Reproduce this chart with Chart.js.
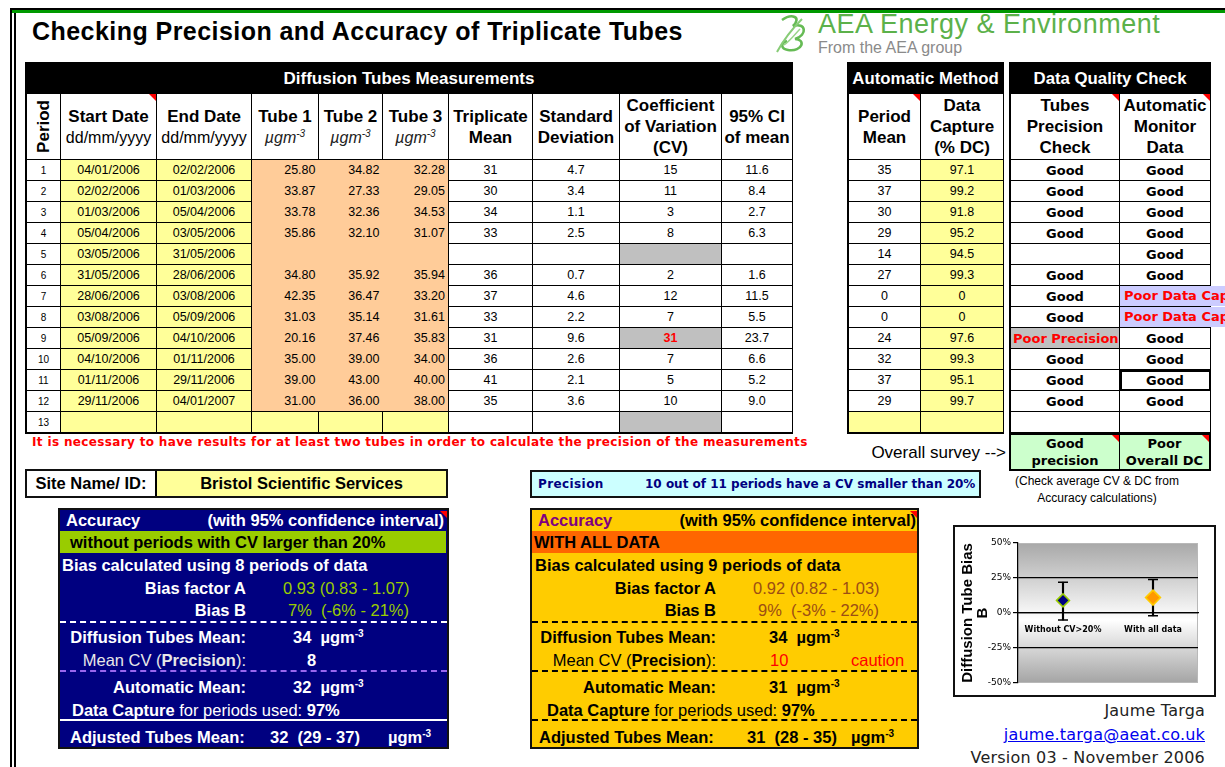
<!DOCTYPE html>
<html>
<head>
<meta charset="utf-8">
<title>Checking Precision and Accuracy of Triplicate Tubes</title>
<script src="https://cdn.jsdelivr.net/npm/chart.js@4.4.1/dist/chart.umd.min.js"></script>
<style>
  body { margin: 0; width: 1225px; height: 767px; overflow: hidden; background: #fff; position: relative;
         font-family: "Liberation Sans", Arial, sans-serif; color: #000; }
  .abs { position: absolute; }
  .bar { background: #000; color: #fff; font-weight: bold; text-align: center; }
  table { border-collapse: collapse; table-layout: fixed; }
  td, th { border: 1px solid #000; padding: 0; overflow: hidden; white-space: nowrap; position: relative; }
  th { background: #fff; font-weight: bold; font-size: 17px; line-height: 21px; white-space: normal; }
  th .sub { font-weight: normal; font-size: 16px; }
  th .unit { font-weight: normal; font-style: italic; font-size: 16px; color: #222; }
  sup { font-size: 10px; line-height: 0; }
  td { font-size: 12.5px; text-align: center; height: 20px; }
  .per { font-size: 10px; }
  .yel { background: #ffff99; }
  .org { background: #ffcc99; border-top: none; border-bottom: none; border-left: none; border-right: none; text-align: right; padding-right: 3px; }
  .gry { background: #c0c0c0; }
  .red { color: #ff0000; font-weight: bold; }
  .good { font-family: "DejaVu Sans", Verdana, sans-serif; font-weight: bold; font-size: 13px; }
  .cm::after { content: ""; position: absolute; right: 0; top: 0; border-top: 7px solid #ff0000; border-left: 7px solid transparent; }
  .line { position: absolute; height: 18px; line-height: 18px; white-space: nowrap; font-size: 16.5px; font-weight: bold; }
  .n { font-weight: normal; }
  .box { position: absolute; box-sizing: border-box; border: 2px solid #111; }
</style>
</head>
<body>

<!-- frame -->
<div class="abs" style="left:10px;top:8px;width:1215px;height:2px;background:#000;"></div>
<div class="abs" style="left:10px;top:10px;width:1215px;height:3px;background:#009900;"></div>
<div class="abs" style="left:10px;top:8px;width:2px;height:759px;background:#000;"></div>
<div class="abs" style="left:14px;top:13px;width:2px;height:754px;background:#000;"></div>

<div class="abs" style="left:32px;top:17px;font-size:25px;letter-spacing:0.45px;font-weight:bold;white-space:nowrap;">Checking Precision and Accuracy of Triplicate Tubes</div>

<!-- logo -->
<svg class="abs" style="left:770px;top:11px;" width="46" height="46" viewBox="0 0 46 46">
  <path d="M12 9 C22 2, 32 6, 23 15 C36 11, 38 24, 25 28 C36 28, 33 41, 18 39 C11 38, 10 32, 17 30" fill="none" stroke="#66bb55" stroke-width="2.6"/>
  <path d="M7 41 C14 28, 23 17, 32 8" fill="none" stroke="#88cc77" stroke-width="2"/>
  <path d="M14 34 C20 30, 26 22, 30 18" fill="none" stroke="#9ad48a" stroke-width="1.5"/>
</svg>
<div class="abs" style="left:818px;top:9px;font-size:27px;letter-spacing:0.5px;color:#5cb14a;white-space:nowrap;">AEA Energy &amp; Environment</div>
<div class="abs" style="left:818px;top:39px;font-size:16px;color:#8a8a8a;white-space:nowrap;">From the AEA group</div>

<!-- main table -->
<div class="abs" style="left:25px;top:62px;width:768px;border:1px solid #000;box-sizing:border-box;">
  <div class="bar" style="height:30px;line-height:31px;font-size:17px;">Diffusion Tubes Measurements</div>
  <table id="mainTable" style="width:766px;"></table>
</div>

<!-- automatic method -->
<div class="abs" style="left:847px;top:62px;width:157px;border:1px solid #000;box-sizing:border-box;">
  <div class="bar" style="height:30px;line-height:31px;font-size:16.8px;">Automatic Method</div>
  <table id="autoTable" style="width:155px;"></table>
</div>

<!-- data quality -->
<div class="abs" style="left:1009px;top:62px;width:202px;border:1px solid #000;box-sizing:border-box;">
  <div class="bar" style="height:30px;line-height:31px;font-size:16.8px;">Data Quality Check</div>
  <table id="dqTable" style="width:200px;"></table>
</div>

<div class="abs" style="left:1009px;top:433px;width:202px;height:38px;box-sizing:border-box;border:2px solid #000;background:#ccffcc;">
  <div class="abs good cm" style="left:0;top:0;width:108px;height:34px;line-height:17px;text-align:center;border-right:1px solid #000;">Good<br>precision</div>
  <div class="abs good cm" style="left:109px;top:0;width:89px;height:34px;line-height:17px;text-align:center;">Poor<br>Overall DC</div>
</div>
<div class="abs" style="left:820px;top:443px;width:186px;text-align:right;font-size:17px;white-space:nowrap;">Overall survey --&gt;</div>
<div class="abs" style="left:1009px;top:473px;width:176px;text-align:center;font-size:12px;line-height:17px;">(Check average CV &amp; DC from Accuracy calculations)</div>

<div class="abs" style="left:32px;top:435px;font-family:'DejaVu Sans',Verdana,sans-serif;font-weight:bold;font-size:12px;letter-spacing:0.35px;color:#ff0000;white-space:nowrap;">It is necessary to have results for at least two tubes in order to calculate the precision of the measurements</div>

<!-- site name -->
<div class="box" style="left:25px;top:469px;width:423px;height:29px;background:#ffff99;">
  <div class="abs" style="left:0;top:0;width:128px;height:25px;background:#fff;border-right:2px solid #000;line-height:25px;text-align:center;font-weight:bold;font-size:16.5px;">Site Name/ ID:</div>
  <div class="abs" style="left:130px;top:0;width:289px;height:25px;line-height:25px;text-align:center;font-weight:bold;font-size:16.5px;">Bristol Scientific Services</div>
</div>

<!-- precision -->
<div class="box" style="left:530px;top:470px;width:451px;height:28px;background:#ccffff;font-family:'DejaVu Sans',Verdana,sans-serif;font-weight:bold;font-size:12px;color:#000080;">
  <div class="abs" style="left:6px;top:0;line-height:25px;letter-spacing:0.4px;">Precision</div>
  <div class="abs" style="left:113px;top:0;line-height:25px;white-space:nowrap;">10 out of 11 periods have a CV smaller than 20%</div>
</div>

<!-- accuracy: without CV > 20% -->
<div class="box" style="left:58px;top:508px;width:391px;height:241px;background:#000080;color:#fff;">
  <div class="line cm" style="left:0;top:1px;width:387px;"><span style="margin-left:6px;">Accuracy</span><span style="position:absolute;right:3px;">(with 95% confidence interval)</span></div>
  <div class="line" style="left:0;top:21px;width:376px;height:22px;line-height:22px;background:#99cc00;color:#000;padding-left:10px;">without periods with CV larger than 20%</div>
  <div class="line" style="left:2px;top:46px;">Bias calculated using 8 periods of data</div>
  <div class="line" style="left:0;top:69px;width:186px;text-align:right;">Bias factor A</div>
  <div class="line n" style="left:223px;top:69px;color:#99cc00;">0.93 (0.83 - 1.07)</div>
  <div class="line" style="left:0;top:91px;width:186px;text-align:right;">Bias B</div>
  <div class="line n" style="left:228px;top:91px;color:#99cc00;white-space:pre;">7%  (-6% - 21%)</div>
  <div class="abs" style="left:0;top:111px;width:387px;border-top:2px dashed #fff;"></div>
  <div class="line" style="left:0;top:118px;width:186px;text-align:right;">Diffusion Tubes Mean:</div>
  <div class="line" style="left:233px;top:118px;white-space:pre;">34  µgm<sup>-3</sup></div>
  <div class="line" style="left:0;top:141px;width:186px;text-align:right;color:#e8e8e8;"><span class="n">Mean CV (</span>Precision<span class="n">):</span></div>
  <div class="line" style="left:247px;top:141px;">8</div>
  <div class="abs" style="left:0;top:160px;width:387px;border-top:2px dashed #9966ee;"></div>
  <div class="line" style="left:0;top:168px;width:186px;text-align:right;">Automatic Mean:</div>
  <div class="line" style="left:233px;top:168px;white-space:pre;">32  µgm<sup>-3</sup></div>
  <div class="line" style="left:12px;top:191px;">Data Capture <span class="n">for periods used:</span> 97%</div>
  <div class="abs" style="left:0;top:209px;width:387px;border-top:2px solid #fff;"></div>
  <div class="line" style="left:10px;top:218px;">Adjusted Tubes Mean:</div>
  <div class="line" style="left:210px;top:218px;white-space:pre;">32  (29 - 37)</div>
  <div class="line" style="left:328px;top:218px;">µgm<sup>-3</sup></div>
</div>

<!-- accuracy: all data -->
<div class="box" style="left:530px;top:508px;width:389px;height:241px;background:#ffcc00;color:#000;">
  <div class="line cm" style="left:0;top:1px;width:385px;"><span style="margin-left:6px;color:#800080;">Accuracy</span><span style="position:absolute;right:1px;">(with 95% confidence interval)</span></div>
  <div class="line" style="left:0;top:21px;width:383px;height:22px;line-height:22px;background:#ff6600;padding-left:2px;">WITH ALL DATA</div>
  <div class="line" style="left:3px;top:46px;">Bias calculated using 9 periods of data</div>
  <div class="line" style="left:0;top:69px;width:184px;text-align:right;">Bias factor A</div>
  <div class="line n" style="left:221px;top:69px;color:#9c4e14;">0.92 (0.82 - 1.03)</div>
  <div class="line" style="left:0;top:91px;width:184px;text-align:right;">Bias B</div>
  <div class="line n" style="left:226px;top:91px;color:#9c4e14;white-space:pre;">9%  (-3% - 22%)</div>
  <div class="abs" style="left:0;top:111px;width:385px;border-top:2px dashed #000;"></div>
  <div class="line" style="left:0;top:118px;width:184px;text-align:right;">Diffusion Tubes Mean:</div>
  <div class="line" style="left:237px;top:118px;white-space:pre;">34  µgm<sup>-3</sup></div>
  <div class="line" style="left:0;top:141px;width:184px;text-align:right;"><span class="n">Mean CV (</span>Precision<span class="n">):</span></div>
  <div class="line n" style="left:238px;top:141px;color:#ff0000;">10</div>
  <div class="line n" style="left:319px;top:141px;color:#ff0000;">caution</div>
  <div class="abs" style="left:0;top:160px;width:385px;border-top:2px dashed #000;"></div>
  <div class="line" style="left:0;top:168px;width:184px;text-align:right;">Automatic Mean:</div>
  <div class="line" style="left:237px;top:168px;white-space:pre;">31  µgm<sup>-3</sup></div>
  <div class="line" style="left:15px;top:191px;">Data Capture <span class="n">for periods used:</span> 97%</div>
  <div class="abs" style="left:0;top:209px;width:385px;border-top:2px dashed #000;"></div>
  <div class="line" style="left:7px;top:218px;">Adjusted Tubes Mean:</div>
  <div class="line" style="left:215px;top:218px;white-space:pre;">31  (28 - 35)</div>
  <div class="line" style="left:319px;top:218px;">µgm<sup>-3</sup></div>
</div>

<!-- bias chart -->
<div class="box" style="left:953px;top:525px;width:263px;height:172px;background:#fff;">
  <div class="abs" style="left:0;top:1px;width:259px;height:167px;">
    <canvas id="biasChart"></canvas>
  </div>
</div>

<div class="abs" style="left:880px;top:699px;width:325px;text-align:right;font-family:'DejaVu Sans',Verdana,sans-serif;font-size:16px;letter-spacing:0.2px;line-height:23.5px;color:#222;">
  Jaume Targa<br>
  <span style="color:#0000ee;text-decoration:underline;">jaume.targa@aeat.co.uk</span><br>
  Version 03 - November 2006
</div>

<script>
// diffusion tube measurements, one entry per period
const periods = [1, 2, 3, 4, 5, 6, 7, 8, 9, 10, 11, 12, 13];
const startDates = ["04/01/2006", "02/02/2006", "01/03/2006", "05/04/2006", "03/05/2006", "31/05/2006", "28/06/2006", "03/08/2006", "05/09/2006", "04/10/2006", "01/11/2006", "29/11/2006", ""];
const endDates = ["02/02/2006", "01/03/2006", "05/04/2006", "03/05/2006", "31/05/2006", "28/06/2006", "03/08/2006", "05/09/2006", "04/10/2006", "01/11/2006", "29/11/2006", "04/01/2007", ""];
const tube1 = ["25.80", "33.87", "33.78", "35.86", "", "34.80", "42.35", "31.03", "20.16", "35.00", "39.00", "31.00", ""];
const tube2 = ["34.82", "27.33", "32.36", "32.10", "", "35.92", "36.47", "35.14", "37.46", "39.00", "43.00", "36.00", ""];
const tube3 = ["32.28", "29.05", "34.53", "31.07", "", "35.94", "33.20", "31.61", "35.83", "34.00", "40.00", "38.00", ""];
const tripMean = ["31", "30", "34", "33", "", "36", "37", "33", "31", "36", "41", "35", ""];
const stdDev = ["4.7", "3.4", "1.1", "2.5", "", "0.7", "4.6", "2.2", "9.6", "2.6", "2.1", "3.6", ""];
const cvValues = ["15", "11", "3", "8", "", "2", "12", "7", "31", "7", "5", "10", ""];
const ci95 = ["11.6", "8.4", "2.7", "6.3", "", "1.6", "11.5", "5.5", "23.7", "6.6", "5.2", "9.0", ""];

// automatic method
const autoMean = ["35", "37", "30", "29", "14", "27", "0", "0", "24", "32", "37", "29", ""];
const dataCapture = ["97.1", "99.2", "91.8", "95.2", "94.5", "99.3", "0", "0", "97.6", "99.3", "95.1", "99.7", ""];

// data quality check
const precisionCheck = ["Good", "Good", "Good", "Good", "", "Good", "Good", "Good", "Poor Precision", "Good", "Good", "Good", ""];
const monitorCheck = ["Good", "Good", "Good", "Good", "Good", "Good", "Poor Data Capture", "Poor Data Capture", "Good", "Good", "Good", "Good", ""];

// bias chart
const biasLabels = ["Without CV>20%", "With all data"];
const biasValues = [9, 11];
const biasLow = [-5, -2];
const biasHigh = [22, 24];
const biasTicks = [-50, -25, 0, 25, 50];

function buildMainTable() {
    const widths = [34, 96, 95, 67, 64, 66, 84, 87, 102, 71];
    let html = "<colgroup>" + widths.map((w) => `<col style="width:${w}px">`).join("") + "</colgroup>";
    const unit = '<span class="unit">µgm<sup>-3</sup></span>';
    html += `<tr style="height:66px">
      <th><div style="writing-mode:vertical-rl;transform:rotate(180deg);margin:auto;">Period</div></th>
      <th class="cm">Start Date<br><span class="sub">dd/mm/yyyy</span></th>
      <th>End Date<br><span class="sub">dd/mm/yyyy</span></th>
      <th>Tube 1<br>${unit}</th>
      <th>Tube 2<br>${unit}</th>
      <th>Tube 3<br>${unit}</th>
      <th>Triplicate<br>Mean</th>
      <th>Standard<br>Deviation</th>
      <th>Coefficient<br>of Variation<br>(CV)</th>
      <th>95% CI<br>of mean</th>
    </tr>`;

    periods.forEach((p, i) => {
        const last = i === periods.length - 1;
        const tubeCls = last ? "yel" : "org";
        const cv = cvValues[i];
        let cvCell = `<td>${cv}</td>`;
        if (cv === "") cvCell = '<td class="gry"></td>';
        else if (Number(cv) > 20) cvCell = `<td class="gry red">${cv}</td>`;
        html += `<tr style="height:21px">
          <td class="per">${p}</td>
          <td class="yel">${startDates[i]}</td>
          <td class="yel">${endDates[i]}</td>
          <td class="${tubeCls}" ${last ? "" : 'style="border-left:1px solid #000"'}>${tube1[i]}</td>
          <td class="${tubeCls}">${tube2[i]}</td>
          <td class="${tubeCls}" ${last ? "" : 'style="border-right:1px solid #000"'}>${tube3[i]}</td>
          <td>${tripMean[i]}</td>
          <td>${stdDev[i]}</td>
          ${cvCell}
          <td>${ci95[i]}</td>
        </tr>`;
    });
    document.getElementById("mainTable").innerHTML = html;
}

function buildAutoTable() {
    let html = '<colgroup><col style="width:72px"><col style="width:83px"></colgroup>';
    html += `<tr style="height:66px"><th class="cm">Period<br>Mean</th><th>Data<br>Capture<br>(% DC)</th></tr>`;
    periods.forEach((p, i) => {
        const last = i === periods.length - 1;
        html += `<tr style="height:21px"><td class="${last ? "yel" : ""}">${autoMean[i]}</td><td class="yel">${dataCapture[i]}</td></tr>`;
    });
    document.getElementById("autoTable").innerHTML = html;
}

function buildDqTable() {
    let html = '<colgroup><col style="width:109px"><col style="width:91px"></colgroup>';
    html += `<tr style="height:66px"><th class="cm">Tubes<br>Precision<br>Check</th><th class="cm">Automatic<br>Monitor<br>Data</th></tr>`;
    periods.forEach((p, i) => {
        const pc = precisionCheck[i];
        const mc = monitorCheck[i];
        let pcCell = `<td class="good">${pc}</td>`;
        if (pc.startsWith("Poor")) pcCell = `<td class="good gry red" style="text-align:left;padding-left:2px;">${pc}</td>`;
        let mcCell = `<td class="good" ${i === 10 ? 'style="outline:2px solid #000;outline-offset:-2px"' : ""}>${mc}</td>`;
        if (mc.startsWith("Poor")) {
            mcCell = `<td class="good red" style="overflow:visible;border-right:none;text-align:left;">
              <div style="position:absolute;left:0;top:0;width:110px;height:100%;background:#ccccff;padding-left:4px;line-height:20px;overflow:hidden;">${mc}</div></td>`;
        }
        html += `<tr style="height:21px">${pcCell}${mcCell}</tr>`;
    });
    document.getElementById("dqTable").innerHTML = html;
}

const plotBackground = {
    id: "plotBackground",
    beforeDraw(chart) {
        const { ctx, chartArea: a } = chart;
        const g = ctx.createLinearGradient(0, a.top, 0, a.bottom);
        g.addColorStop(0, "#a8a8a8");
        g.addColorStop(0.55, "#ffffff");
        g.addColorStop(1, "#a4a4a4");
        ctx.save();
        ctx.fillStyle = g;
        ctx.fillRect(a.left, a.top, a.right - a.left, a.bottom - a.top);
        ctx.strokeStyle = "#b8b8b8";
        ctx.lineWidth = 1;
        ctx.strokeRect(a.left + 0.5, a.top + 0.5, a.right - a.left - 1, a.bottom - a.top - 1);
        ctx.restore();
    },
};

function renderBiasChart() {
    const ctx = document.getElementById("biasChart").getContext("2d");
    new Chart(ctx, {
        type: "bar",
        data: {
            labels: biasLabels,
            datasets: [
                {
                    type: "line",
                    data: biasValues,
                    showLine: false,
                    pointStyle: "rectRot",
                    pointRadius: [6.5, 7.5],
                    pointBackgroundColor: ["#000080", "#ff9900"],
                    pointBorderColor: ["#99cc00", "#ffcc00"],
                    pointBorderWidth: 1.5,
                    order: 0,
                },
                {
                    type: "line",
                    data: biasHigh,
                    showLine: false,
                    pointStyle: "line",
                    pointRadius: 5,
                    pointBorderColor: "#000",
                    pointBorderWidth: 1.5,
                    order: 1,
                },
                {
                    type: "line",
                    data: biasLow,
                    showLine: false,
                    pointStyle: "line",
                    pointRadius: 5,
                    pointBorderColor: "#000",
                    pointBorderWidth: 1.5,
                    order: 1,
                },
                {
                    type: "bar",
                    data: biasLow.map((lo, i) => [lo, biasHigh[i]]),
                    backgroundColor: "#000",
                    barThickness: 1.5,
                    order: 2,
                },
            ],
        },
        options: {
            responsive: true,
            maintainAspectRatio: false,
            animation: false,
            layout: { padding: { top: 15, right: 16, bottom: 12, left: 5 } },
            plugins: {
                legend: { display: false },
                tooltip: { enabled: false },
            },
            scales: {
                x: {
                    type: "category",
                    offset: true,
                    position: { y: 0 },
                    grid: { display: false },
                    border: { color: "#000", width: 1.2 },
                    ticks: {
                        color: "#000",
                        padding: 4,
                        maxRotation: 0,
                        autoSkip: false,
                        font: { family: "DejaVu Sans", size: 8, weight: "bold" },
                    },
                },
                y: {
                    min: -50,
                    max: 50,
                    afterBuildTicks: (scale) => {
                        scale.ticks = biasTicks.map((v) => ({ value: v }));
                    },
                    afterFit: (scale) => {
                        scale.width = 58;
                    },
                    border: { color: "#000", width: 1.2 },
                    grid: {
                        color: (c) => (Math.abs(c.tick.value) === 50 ? "rgba(0,0,0,0)" : "#000"),
                        lineWidth: 1.2,
                        tickLength: 5,
                        tickColor: "#000",
                    },
                    ticks: {
                        color: "#000",
                        padding: 2,
                        font: { family: "DejaVu Sans", size: 9 },
                        callback: (value) => value + "%",
                    },
                    title: {
                        display: true,
                        text: ["Diffusion Tube Bias", "B"],
                        color: "#000",
                        padding: 0,
                        font: { family: "Liberation Sans", size: 15, weight: "bold", lineHeight: 1.0 },
                    },
                },
            },
        },
        plugins: [plotBackground],
    });
}

buildMainTable();
buildAutoTable();
buildDqTable();
renderBiasChart();
</script>
</body>
</html>
